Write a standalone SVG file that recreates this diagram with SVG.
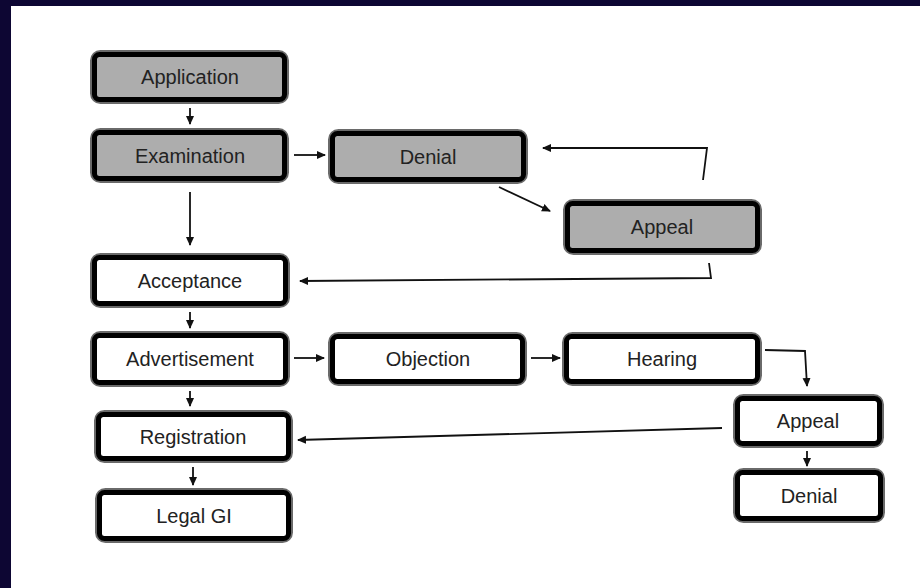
<svg xmlns="http://www.w3.org/2000/svg" width="920" height="588" viewBox="0 0 920 588">
<style>
.o{fill:none;stroke:#6a6a6a;stroke-width:9}
.b{stroke:#000;stroke-width:5}
.g{fill:#adadad}
.w{fill:#fff}
text{font-family:"Liberation Sans",Arial,sans-serif;font-size:20px;fill:#222;text-anchor:middle}
.c{fill:none;stroke:#111;stroke-width:1.8}
</style>
<defs>
<marker id="ah" markerWidth="10" markerHeight="10" refX="8" refY="5" orient="auto" markerUnits="userSpaceOnUse">
<path d="M0,1 L9,5 L0,9 Z" fill="#111"/>
</marker>
</defs>
<rect x="0" y="0" width="920" height="588" fill="#0d0633"/>
<rect x="11" y="6" width="909" height="582" fill="#fff"/>

<g id="connectors">
<path class="c" d="M190,108 L190,124" marker-end="url(#ah)"/>
<path class="c" d="M294,155 L325,155" marker-end="url(#ah)"/>
<path class="c" d="M190,192 L190,245" marker-end="url(#ah)"/>
<path class="c" d="M499,187 L550,211" marker-end="url(#ah)"/>
<path class="c" d="M703,180 L707,148 L543,148" marker-end="url(#ah)"/>
<path class="c" d="M709,263 L711,278 L300,281" marker-end="url(#ah)"/>
<path class="c" d="M190,312 L190,328" marker-end="url(#ah)"/>
<path class="c" d="M294,358 L324,358" marker-end="url(#ah)"/>
<path class="c" d="M531,358 L560,358" marker-end="url(#ah)"/>
<path class="c" d="M765,350 L805,351 L807,386" marker-end="url(#ah)"/>
<path class="c" d="M190,391 L190,406" marker-end="url(#ah)"/>
<path class="c" d="M722,428 L298,440" marker-end="url(#ah)"/>
<path class="c" d="M193,467 L193,485" marker-end="url(#ah)"/>
<path class="c" d="M807,451 L807,466" marker-end="url(#ah)"/>
</g>

<g id="application"><rect class="o" x="94.5" y="54.5" width="190" height="45" rx="6"/><rect class="b g" x="94.5" y="54.5" width="190" height="45" rx="5"/><text x="190" y="84">Application</text></g>
<g id="examination"><rect class="o" x="94.5" y="132.5" width="190" height="46" rx="6"/><rect class="b g" x="94.5" y="132.5" width="190" height="46" rx="5"/><text x="190" y="163">Examination</text></g>
<g id="denial1"><rect class="o" x="332.5" y="133.5" width="191" height="46" rx="6"/><rect class="b g" x="332.5" y="133.5" width="191" height="46" rx="5"/><text x="428" y="164">Denial</text></g>
<g id="appeal1"><rect class="o" x="567.5" y="203.5" width="190" height="47" rx="6"/><rect class="b g" x="567.5" y="203.5" width="190" height="47" rx="5"/><text x="662" y="234">Appeal</text></g>
<g id="acceptance"><rect class="o" x="94.5" y="257.5" width="191" height="46" rx="6"/><rect class="b w" x="94.5" y="257.5" width="191" height="46" rx="5"/><text x="190" y="288">Acceptance</text></g>
<g id="advertisement"><rect class="o" x="94.5" y="335.5" width="191" height="47" rx="6"/><rect class="b w" x="94.5" y="335.5" width="191" height="47" rx="5"/><text x="190" y="366">Advertisement</text></g>
<g id="objection"><rect class="o" x="332.5" y="336.5" width="190" height="45" rx="6"/><rect class="b w" x="332.5" y="336.5" width="190" height="45" rx="5"/><text x="428" y="366">Objection</text></g>
<g id="hearing"><rect class="o" x="566.5" y="336.5" width="191" height="45" rx="6"/><rect class="b w" x="566.5" y="336.5" width="191" height="45" rx="5"/><text x="662" y="366">Hearing</text></g>
<g id="registration"><rect class="o" x="98.5" y="414.5" width="190" height="44" rx="6"/><rect class="b w" x="98.5" y="414.5" width="190" height="44" rx="5"/><text x="193" y="444">Registration</text></g>
<g id="legal-gi"><rect class="o" x="99.5" y="492.5" width="189" height="46" rx="6"/><rect class="b w" x="99.5" y="492.5" width="189" height="46" rx="5"/><text x="194" y="523">Legal GI</text></g>
<g id="appeal2"><rect class="o" x="737.5" y="398.5" width="142" height="45" rx="6"/><rect class="b w" x="737.5" y="398.5" width="142" height="45" rx="5"/><text x="808" y="428">Appeal</text></g>
<g id="denial2"><rect class="o" x="737.5" y="472.5" width="143" height="46" rx="6"/><rect class="b w" x="737.5" y="472.5" width="143" height="46" rx="5"/><text x="809" y="503">Denial</text></g>
</svg>
